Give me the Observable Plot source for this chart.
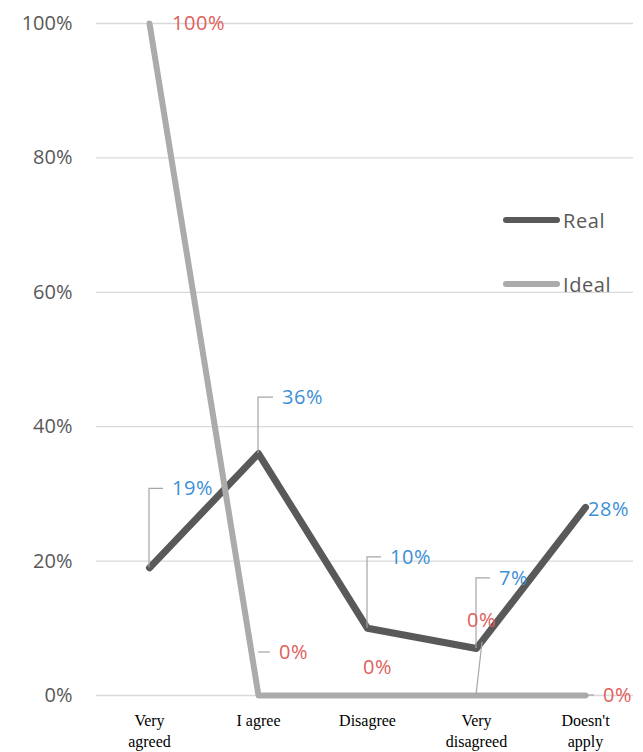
<!DOCTYPE html>
<html>
<head>
<meta charset="utf-8">
<script src="https://cdn.jsdelivr.net/npm/d3@7"></script>
<script src="https://cdn.jsdelivr.net/npm/@observablehq/plot@0.6"></script>
<style>
  body { margin: 0; background: #fff; }
  #chart { position: relative; width: 643px; height: 752px; }
  .legend { position: absolute; left: 503px; font: 20px "Open Sans", sans-serif; letter-spacing: 0.6px; color: #595959; display: flex; align-items: center; }
  .legend .swatch { width: 57px; height: 6px; border-radius: 3px; margin-right: 3px; }
</style>
</head>
<body>
<div id="chart"></div>
<script>
// Survey answers and the two series
const categories = ["Very agreed", "I agree", "Disagree", "Very disagreed", "Doesn't apply"];
const categoryLabels = ["Very\nagreed", "I agree", "Disagree", "Very\ndisagreed", "Doesn't\napply"];
const realValues = [0.19, 0.36, 0.10, 0.07, 0.28];
const idealValues = [1, 0, 0, 0, 0];
const seriesNames = ["Real", "Ideal"];
const yTicks = [0, 0.2, 0.4, 0.6, 0.8, 1];

// Label callout placement (pixel offsets from each point)
const realCallouts = [
  {dx: 23, lift: 79, leader: "elbow"},
  {dx: 24, lift: 56, leader: "elbow"},
  {dx: 23, lift: 71, leader: "elbow"},
  {dx: 23, lift: 70, leader: "elbow"},
  {dx: 3, lift: -2, leader: "none"}
];
const idealCallouts = [
  {dx: 23, lift: 0, leader: "none"},
  {dx: 21, lift: 43, leader: "tick"},
  {dx: -4, lift: 28, leader: "none"},
  {dx: -9, lift: 75, leader: "slant"},
  {dx: 18, lift: 0, leader: "tick"}
];

const colors = {Real: "#595959", Ideal: "#ababab"};
const labelColors = {Real: "#3d8fd6", Ideal: "#e0605c"};
const font = '"Open Sans", sans-serif';
const fmt = d3.format(".0%");

const realRows = categories.map((c, i) => ({cat: c, value: realValues[i], series: "Real", ...realCallouts[i]}));
const idealRows = categories.map((c, i) => ({cat: c, value: idealValues[i], series: "Ideal", ...idealCallouts[i]}));

// Data labels with leader lines, positioned through the plot's scales
function callouts(rows) {
  return (index, scales) => {
    const g = d3.create("svg:g").attr("text-anchor", "start");
    for (const r of rows) {
      const px = scales.x(r.cat);
      const py = scales.y(r.value);
      const ly = py - r.lift;
      const tx = px + r.dx;
      let d = null;
      if (r.leader === "elbow") d = `M${px},${py}V${ly}H${tx - 9}`;
      else if (r.leader === "tick") d = `M${tx - 21},${ly}H${tx - 9}`;
      else if (r.leader === "slant") d = `M${px},${py}L${px + 6},${ly + 22}`;
      if (d) g.append("path").attr("d", d).attr("fill", "none").attr("stroke", "#a6a6a6").attr("stroke-width", 1.2);
      g.append("text")
        .attr("x", tx).attr("y", ly).attr("dy", "0.35em")
        .attr("text-anchor", "start")
        .attr("fill", labelColors[r.series])
        .attr("font-family", font).attr("font-size", 20)
        .attr("letter-spacing", 0.6)
        .text(fmt(r.value));
    }
    return g.node();
  };
}

const chart = Plot.plot({
  width: 643,
  height: 752,
  marginTop: 23,
  marginBottom: 57,
  marginLeft: 96,
  marginRight: 10,
  style: {background: "#fff"},
  // category slots run a little past the right end of the gridlines
  x: {type: "point", domain: categories, padding: 0.5, range: [94.5, 639.5], axis: null},
  y: {domain: [0, 1], axis: null},
  marks: [
    Plot.gridY(yTicks, {stroke: "#d9d9d9", strokeOpacity: 1, strokeWidth: 1.3}),
    Plot.axisY(yTicks, {
      label: null,
      tickFormat: fmt, tickSize: 0, tickPadding: 24,
      fontSize: 20, fontFamily: font, fill: "#595959",
      letterSpacing: 0.6
    }),
    Plot.text(categories, {
      x: d => d,
      text: (d, i) => categoryLabels[i],
      frameAnchor: "bottom",
      lineAnchor: "top",
      dy: 15,
      lineHeight: 1.35,
      fontSize: 16,
      fontFamily: '"Liberation Serif", "Times New Roman", serif',
      fill: "#000"
    }),
    Plot.line(realRows, {x: "cat", y: "value", stroke: colors.Real, strokeWidth: 7, strokeLinejoin: "round", strokeLinecap: "round"}),
    Plot.line(idealRows, {x: "cat", y: "value", stroke: colors.Ideal, strokeWidth: 6, strokeLinejoin: "round", strokeLinecap: "round"}),
    callouts(realRows),
    callouts(idealRows)
  ]
});

const root = document.getElementById("chart");
root.appendChild(chart);

// Legend inside the plot area
const legendTops = {Real: 220, Ideal: 284};
for (const name of seriesNames) {
  const item = document.createElement("div");
  item.className = "legend";
  item.style.top = (legendTops[name] - 14) + "px";
  item.style.height = "28px";
  const sw = document.createElement("span");
  sw.className = "swatch";
  sw.style.background = colors[name];
  const lab = document.createElement("span");
  lab.textContent = name;
  item.appendChild(sw);
  item.appendChild(lab);
  root.appendChild(item);
}
</script>
</body>
</html>
